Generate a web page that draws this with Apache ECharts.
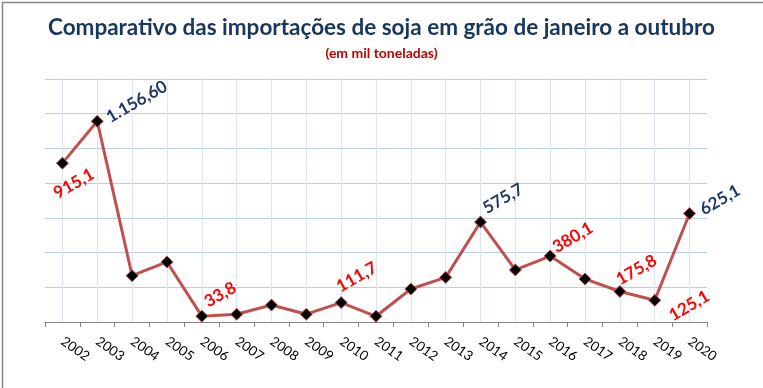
<!DOCTYPE html>
<html>
<head>
<meta charset="utf-8">
<script src="https://cdn.jsdelivr.net/npm/echarts@6/dist/echarts.min.js"></script>
<style>
html,body{margin:0;padding:0;background:#fff;}
#chart{width:763px;height:388px;}
</style>
</head>
<body>
<div id="chart"></div>
<script>
const categories = ['2002','2003','2004','2005','2006','2007','2008','2009','2010','2011','2012','2013','2014','2015','2016','2017','2018','2019','2020'];
const values = [915.1, 1156.6, 267, 346, 33.8, 45, 98, 45, 111.7, 33, 190, 257, 575.7, 300, 380.1, 248, 175.8, 125.1, 625.1];
const labelTexts = ['915,1','1.156,60','','','33,8','','','','111,7','','','','575,7','','380,1','','175,8','125,1','625,1'];
const labelColors = ['#FF0000','#1F3864','','','#FF0000','','','','#FF0000','','','','#1F3864','','#FF0000','','#FF0000','#FF0000','#1F3864'];
const labelOffsets = [[12,21],[40,-19],null,null,[19,-21],null,null,null,[16,-25],null,null,null,[23,-23],null,[23,-18],null,[17,-21],[35,6],[31,-13]];
const titleText = 'Comparativo das importações de soja em grão de janeiro a outubro';
const subtitleText = '(em mil toneladas)';

const SYM = 12;
const seriesData = values.map((v, i) => {
  const item = { value: v };
  if (labelTexts[i]) {
    const o = labelOffsets[i];
    item.label = {
      show: true,
      formatter: labelTexts[i],
      color: labelColors[i],
      position: [SYM / 2 + o[0], SYM / 2 + o[1]],
      align: 'center',
      verticalAlign: 'middle',
      rotate: 30,
      fontFamily: 'Lato',
      fontWeight: 'bold',
      fontSize: 17
    };
  }
  return item;
});

const chart = echarts.init(document.getElementById('chart'));
chart.setOption({
  animation: false,
  backgroundColor: '#fff',
  title: [{
    text: titleText,
    left: 'center',
    top: 11,
    textStyle: { fontFamily: 'Lato', fontWeight: 'bold', fontSize: 22.5, color: '#17375E' }
  }, {
    text: subtitleText,
    left: 'center',
    top: 41,
    textStyle: { fontFamily: 'Lato', fontWeight: 'bold', fontSize: 14, color: '#C00000' }
  }],
  graphic: [{
    type: 'rect', left: 0, top: 0, silent: true,
    shape: { x: 0.5, y: 0.5, width: 761.5, height: 386.5 },
    style: { fill: 'none', stroke: '#868686', lineWidth: 1.5 }
  }],
  grid: { left: 45, right: 56, top: 79, bottom: 66 },
  xAxis: {
    type: 'category',
    data: categories,
    boundaryGap: true,
    axisLine: { lineStyle: { color: '#868686', width: 1 } },
    axisTick: { show: true, length: 5, lineStyle: { color: '#868686' } },
    splitLine: { show: true, alignWithLabel: true, lineStyle: { color: '#DCE6F2', width: 1 } },
    axisLabel: { rotate: -35, margin: 18, color: '#000', fontFamily: 'Lato', fontSize: 13.5, interval: 0 }
  },
  yAxis: {
    type: 'value',
    min: 0, max: 1400, interval: 200,
    axisLine: { show: false },
    axisTick: { show: false },
    axisLabel: { show: false },
    splitLine: { lineStyle: { color: '#B9CDE5', width: 1 } }
  },
  series: [{
    type: 'line',
    data: seriesData,
    symbol: 'diamond',
    symbolSize: SYM,
    lineStyle: { color: '#C0504D', width: 3 },
    itemStyle: { color: '#000', borderColor: '#C0504D', borderWidth: 1 },
    z: 3
  }]
});
</script>
</body>
</html>
